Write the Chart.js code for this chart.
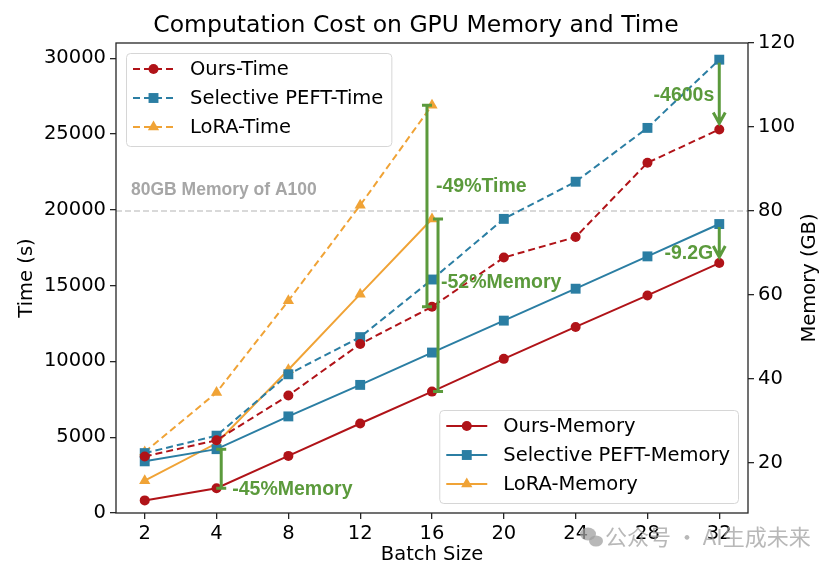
<!DOCTYPE html>
<html>
<head>
<meta charset="utf-8">
<script src="https://cdn.jsdelivr.net/npm/chart.js@4.4.1/dist/chart.umd.min.js"></script>
<style>
  html, body { margin: 0; padding: 0; background: #fff; }
  #wrap { width: 832px; height: 570px; }
</style>
</head>
<body>
<div id="wrap"><canvas id="costChart" width="832" height="570"></canvas></div>
<script>
// batch sizes on the x axis (evenly spaced categories)
const batchSizes = [2, 4, 8, 12, 16, 20, 24, 28, 32];

// time in seconds (left axis)
const oursTime = [3730, 4800, 7750, 11150, 13600, 16850, 18200, 23100, 25300];
const peftTime = [3950, 5100, 9150, 11600, 15400, 19400, 21850, 25400, 29900];
const loraTime = [4020, 7950, 14000, 20300, 26900];

// memory in GB (right axis)
const oursMem = [11.1, 14.0, 21.7, 29.4, 37.0, 44.8, 52.4, 59.9, 67.6];
const peftMem = [20.4, 23.3, 31.1, 38.6, 46.3, 53.9, 61.5, 69.2, 76.9];
const loraMem = [15.8, 24.7, 42.2, 60.2, 78.1];

const timeTicks = [0, 5000, 10000, 15000, 20000, 25000, 30000];
const memTicks = [20, 40, 60, 80, 100, 120];
const a100Memory = 80;

const RED = '#b01318';
const BLUE = '#2b7ea3';
const ORANGE = '#f0a336';
const GREEN = '#5b9a3c';
const AXIS = '#262626';
const FONT = '"DejaVu Sans", sans-serif';
const BOLD = 'bold 19.5px "Liberation Sans", Arial, sans-serif';

const toXY = arr => arr.map((v, i) => ({ x: i, y: v }));

function makeSeries(label, values, color, style, radius, axis, dashed) {
    return {
        label,
        data: toXY(values),
        yAxisID: axis,
        group: axis,
        borderColor: color,
        backgroundColor: color,
        borderWidth: 2,
        borderDash: dashed ? [7, 4] : [],
        tension: 0,
        pointStyle: style,
        pointRadius: radius,
        pointBorderWidth: 0,
        pointBackgroundColor: color
    };
}

// 📝 errorbar-like bracket and down arrows
function bracket(ctx, x, y1, y2, cap) {
    ctx.beginPath();
    ctx.moveTo(x, y1); ctx.lineTo(x, y2);
    ctx.moveTo(x - cap, y1); ctx.lineTo(x + cap, y1);
    ctx.moveTo(x - cap, y2); ctx.lineTo(x + cap, y2);
    ctx.stroke();
}

function arrowDown(ctx, x, y1, y2) {
    ctx.beginPath();
    ctx.moveTo(x, y1); ctx.lineTo(x, y2);
    ctx.moveTo(x - 6, y2 - 11); ctx.lineTo(x, y2); ctx.lineTo(x + 6, y2 - 11);
    ctx.stroke();
}

const annotationPlugin = {
    id: 'annotations',
    beforeDatasetsDraw(chart) {
        const { ctx, chartArea: a, scales } = chart;
        const y = scales.yMem.getPixelForValue(a100Memory);
        ctx.save();
        ctx.strokeStyle = '#b3b3b3';
        ctx.lineWidth = 1.2;
        ctx.setLineDash([6, 3]);
        ctx.beginPath(); ctx.moveTo(a.left, y); ctx.lineTo(a.right, y); ctx.stroke();
        ctx.setLineDash([]);
        ctx.fillStyle = '#a6a6a6';
        ctx.font = 'bold 17.5px "Liberation Sans", Arial, sans-serif';
        ctx.fillText('80GB Memory of A100', a.left + 15, y - 16);
        ctx.restore();
    },
    afterDatasetsDraw(chart) {
        const { ctx, scales } = chart;
        const x = scales.x, yt = scales.yTime, ym = scales.yMem;
        ctx.save();
        ctx.strokeStyle = GREEN;
        ctx.fillStyle = GREEN;
        ctx.lineWidth = 3;
        ctx.font = BOLD;
        ctx.textBaseline = 'alphabetic';

        // -45% memory at batch 4
        let px = x.getPixelForValue(1 + 0.065);
        let top = ym.getPixelForValue(peftMem[1]), bot = ym.getPixelForValue(oursMem[1]);
        bracket(ctx, px, top, bot, 5);
        ctx.fillText('-45%Memory', px + 11, bot + 7);

        // -49% time at batch 16
        px = x.getPixelForValue(4 - 0.07);
        top = yt.getPixelForValue(loraTime[4]); bot = yt.getPixelForValue(oursTime[4]);
        bracket(ctx, px, top, bot, 5);
        ctx.fillText('-49%Time', px + 9, top + 0.43 * (bot - top));

        // -52% memory at batch 16
        px = x.getPixelForValue(4 + 0.084);
        top = ym.getPixelForValue(loraMem[4]); bot = ym.getPixelForValue(oursMem[4]);
        bracket(ctx, px, top, bot, 5);
        ctx.fillText('-52%Memory', px + 3, top + 0.40 * (bot - top));

        // arrows at batch 32
        px = x.getPixelForValue(8);
        ctx.textAlign = 'right';
        top = yt.getPixelForValue(peftTime[8]) + 3; bot = yt.getPixelForValue(oursTime[8]) - 6;
        arrowDown(ctx, px, top, bot);
        ctx.fillText('-4600s', px - 5, top + 0.63 * (bot - top));

        top = ym.getPixelForValue(peftMem[8]) + 3; bot = ym.getPixelForValue(oursMem[8]) - 6;
        arrowDown(ctx, px, top, bot);
        ctx.fillText('-9.2G', px - 6, bot + 2);
        ctx.restore();
    }
};

// 🧾 two legend boxes + frame + right title + watermark
function drawLegendBox(chart, items, anchorX, anchorY, alignRight, alignBottom) {
    const { ctx } = chart;
    ctx.save();
    ctx.font = '19.5px ' + FONT;
    const textW = Math.max(...items.map(d => ctx.measureText(d.label).width));
    const w = 64 + textW + 8, h = 93;
    const left = alignRight ? anchorX - w : anchorX;
    const top = alignBottom ? anchorY - h : anchorY;

    ctx.fillStyle = 'rgba(255,255,255,0.8)';
    ctx.strokeStyle = '#d6d6d6';
    ctx.lineWidth = 1;
    ctx.beginPath();
    ctx.roundRect(left + 0.5, top + 0.5, w, h, 4);
    ctx.fill();
    ctx.stroke();

    items.forEach((d, i) => {
        const y = top + 16 + i * 29;
        ctx.strokeStyle = d.borderColor;
        ctx.fillStyle = d.borderColor;
        ctx.lineWidth = 2;
        ctx.setLineDash(d.borderDash);
        ctx.beginPath(); ctx.moveTo(left + 7, y); ctx.lineTo(left + 48, y); ctx.stroke();
        ctx.setLineDash([]);
        Chart.helpers.drawPoint(ctx, { pointStyle: d.pointStyle, radius: d.pointRadius, rotation: 0, borderWidth: 0 }, left + 27.5, y);
        ctx.fillStyle = '#000';
        ctx.textBaseline = 'middle';
        ctx.fillText(d.label, left + 64, y + 1);
    });
    ctx.restore();
}

const decorPlugin = {
    id: 'decor',
    afterDraw(chart) {
        const { ctx, chartArea: a } = chart;
        const ds = chart.data.datasets;

        ctx.save();
        ctx.strokeStyle = AXIS;
        ctx.lineWidth = 1.3;
        ctx.strokeRect(a.left, a.top, a.right - a.left, a.bottom - a.top);

        // right axis title reads bottom-to-top like matplotlib
        ctx.translate(810, (a.top + a.bottom) / 2);
        ctx.rotate(-Math.PI / 2);
        ctx.font = '19.5px ' + FONT;
        ctx.fillStyle = '#000';
        ctx.textAlign = 'center';
        ctx.textBaseline = 'middle';
        ctx.fillText('Memory (GB)', 0, 0);
        ctx.restore();

        drawLegendBox(chart, ds.filter(d => d.group === 'yTime'), a.left + 10, a.top + 10, false, false);
        drawLegendBox(chart, ds.filter(d => d.group === 'yMem'), a.right - 10, a.bottom - 10, true, true);

        // watermark
        ctx.save();
        ctx.fillStyle = 'rgba(160,160,160,0.75)';
        ctx.beginPath(); ctx.ellipse(588, 534, 8, 6.5, 0, 0, Math.PI * 2); ctx.fill();
        ctx.beginPath(); ctx.ellipse(596, 541, 7, 5.5, 0, 0, Math.PI * 2); ctx.fill();
        ctx.font = '22px "Noto Sans CJK SC", sans-serif';
        ctx.textBaseline = 'middle';
        ctx.fillText('公众号 · AI生成未来', 605, 537);
        ctx.restore();
    }
};

function tickAxis(extra) {
    return Object.assign({
        grid: { drawOnChartArea: false, drawTicks: true, tickLength: 6, color: AXIS, lineWidth: 1.3 },
        border: { display: false }
    }, extra);
}

window.onload = () => {
    Chart.defaults.font.family = FONT;
    Chart.defaults.color = '#000';

    const ctx = document.getElementById('costChart').getContext('2d');
    new Chart(ctx, {
        type: 'line',
        data: {
            datasets: [
                makeSeries('Ours-Time', oursTime, RED, 'circle', 5, 'yTime', true),
                makeSeries('Selective PEFT-Time', peftTime, BLUE, 'rect', 7, 'yTime', true),
                makeSeries('LoRA-Time', loraTime, ORANGE, 'triangle', 6.5, 'yTime', true),
                makeSeries('Ours-Memory', oursMem, RED, 'circle', 5, 'yMem', false),
                makeSeries('Selective PEFT-Memory', peftMem, BLUE, 'rect', 7, 'yMem', false),
                makeSeries('LoRA-Memory', loraMem, ORANGE, 'triangle', 6.5, 'yMem', false)
            ]
        },
        options: {
            responsive: false,
            animation: false,
            devicePixelRatio: 1,
            layout: { padding: 0 },
            plugins: {
                legend: { display: false },
                tooltip: { enabled: false },
                title: {
                    display: true,
                    text: 'Computation Cost on GPU Memory and Time',
                    color: '#000',
                    font: { size: 23.5, weight: 'normal' },
                    padding: { top: 12, bottom: 2.8 }
                }
            },
            scales: {
                x: tickAxis({
                    type: 'linear',
                    min: -0.4,
                    max: 8.4,
                    afterBuildTicks: s => { s.ticks = batchSizes.map((b, i) => ({ value: i })); },
                    afterFit: s => { s.height = 57; },
                    ticks: { callback: (v, i) => batchSizes[i], font: { size: 19.5 }, padding: 3, maxRotation: 0, autoSkip: false },
                    title: { display: true, text: 'Batch Size', font: { size: 19.5 }, padding: { top: 0, bottom: 3.3 } }
                }),
                yTime: tickAxis({
                    position: 'left',
                    min: 0,
                    max: 31000,
                    afterBuildTicks: s => { s.ticks = timeTicks.map(v => ({ value: v })); },
                    afterFit: s => { s.width = 116; },
                    ticks: { callback: v => String(v), font: { size: 19.5 }, padding: 4 },
                    title: { display: true, text: 'Time (s)', font: { size: 19.5 }, padding: { top: 15, bottom: 0 } }
                }),
                yMem: tickAxis({
                    position: 'right',
                    min: 8.1,
                    max: 120,
                    afterBuildTicks: s => { s.ticks = memTicks.map(v => ({ value: v })); },
                    afterFit: s => { s.width = 84; },
                    ticks: { callback: v => String(v), font: { size: 19.5 }, padding: 4 }
                })
            }
        },
        plugins: [annotationPlugin, decorPlugin]
    });
};
</script>
</body>
</html>
